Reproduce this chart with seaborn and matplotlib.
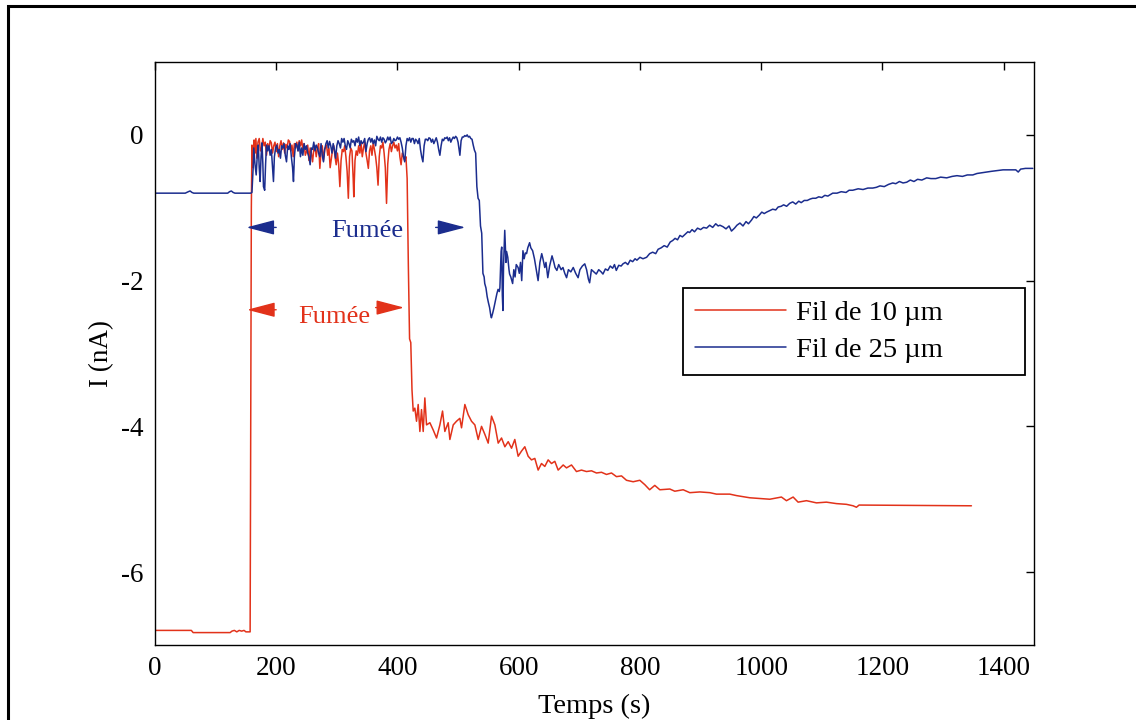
import matplotlib
matplotlib.use("Agg")
import matplotlib.pyplot as plt
import seaborn as sns
import pandas as pd
from matplotlib.patches import Rectangle

# ---------------- data ----------------
t_red = [0, 30, 60, 63, 90, 124, 127, 131, 135, 139, 143, 147, 150, 154, 157,
         158, 159, 160,
         162, 163.5, 165, 166.5, 168, 170, 172, 174, 176, 178, 180, 182, 184, 186, 188, 190,
         192, 194, 196, 198, 200, 202, 204, 206, 208, 210, 212, 214, 216, 218, 220, 222,
         224, 226, 228, 230, 232, 234, 236, 238, 240, 242, 244, 246, 248, 250, 252, 254,
         256, 258, 260, 262, 264, 266, 268, 270, 272, 274, 276, 278, 280, 283, 285, 287,
         289, 291, 293, 295, 297, 299, 301, 303, 305, 307, 309, 311, 313, 315, 317, 319,
         321, 323, 325, 327, 328, 330, 332, 334, 336, 338, 340, 342, 344, 346, 348, 350,
         352, 354, 356, 358, 360, 362, 364, 366, 368, 370, 372, 374, 376, 378, 380, 382,
         384, 386, 388, 390, 392, 394, 396, 398, 400, 402, 404, 406, 408, 410, 412, 414,
         416, 418, 420, 422, 424, 426,
         428.7, 431.5, 434.2, 437, 439.7, 442.5, 445.2, 448, 453.5, 459, 464.5, 470, 474.4,
         478.2, 483.7, 486.5, 492, 497.4, 502.9, 505.7, 511.2, 516.7, 522.2, 527.7, 533.2,
         538.7, 544.2, 549.7, 555.2, 560.7, 566.2, 571.7, 577.2, 582.7, 588.2, 593.6, 599.1,
         604.6, 610.1, 615.6, 621.1, 626.6, 632.1, 637.6, 643.1, 648.6, 654.1, 659.6, 665.1,
         673.4, 678.9, 687.1, 695.3, 703.6, 711.8, 720.1, 728.3, 736.6, 744.8, 753.1, 761.3,
         769.6, 777.8, 788.8, 799.8, 808, 816, 824.5, 832.8, 849.3, 857.5, 871.3, 882.3,
         898.8, 915.3, 926.2, 948.2, 959.2, 981.2, 997.7, 1014.2, 1033.4, 1041.7, 1052.7,
         1060.9, 1074.7, 1091.2, 1107.6, 1124.1, 1140.6, 1151.6, 1157.1, 1161.5, 1344, 1346.8]
i_red = [-6.80, -6.80, -6.80, -6.83, -6.83, -6.83, -6.81, -6.80, -6.82, -6.80, -6.81, -6.80, -6.82, -6.82, -6.82,
         -4.0, -1.0, -0.14,
         -0.45, -0.07, -0.25, -0.05, -0.32, -0.10, -0.05, -0.22, -0.18, -0.05, -0.15, -0.10, -0.28, -0.12, -0.20, -0.08,
         -0.11, -0.25, -0.15, -0.10, -0.23, -0.12, -0.30, -0.15, -0.08, -0.20, -0.11, -0.25, -0.13, -0.18, -0.07, -0.09,
         -0.22, -0.14, -0.30, -0.12, -0.18, -0.10, -0.22, -0.08, -0.15, -0.07, -0.20, -0.12, -0.28, -0.23, -0.14, -0.35,
         -0.18, -0.25, -0.37, -0.20, -0.15, -0.30, -0.18, -0.12, -0.46, -0.22, -0.15, -0.35, -0.20, -0.14, -0.28, -0.18,
         -0.45, -0.32, -0.20, -0.15, -0.30, -0.41, -0.25, -0.40, -0.71, -0.35, -0.20, -0.23, -0.15, -0.30, -0.50, -0.87,
         -0.30, -0.18, -0.22, -0.60, -0.85, -0.35, -0.22, -0.28, -0.15, -0.25, -0.12, -0.30, -0.18, -0.10, -0.25, -0.35,
         -0.46, -0.22, -0.15, -0.28, -0.11, -0.20, -0.30, -0.45, -0.69, -0.30, -0.15, -0.18, -0.10, -0.25, -0.45, -0.94,
         -0.40, -0.20, -0.12, -0.23, -0.15, -0.10, -0.18, -0.14, -0.22, -0.12, -0.30, -0.41, -0.25, -0.30, -0.35, -0.30,
         -0.60, -1.80, -2.80, -2.85, -3.50, -3.79,
         -3.75, -3.93, -3.70, -4.07, -3.77, -4.07, -3.61, -3.98, -3.95, -4.05, -4.16, -3.98, -3.79,
         -4.07, -3.95, -4.18, -3.98, -3.93, -3.89, -4.02, -3.70, -3.84, -3.93, -3.98, -4.18,
         -4.00, -4.11, -4.23, -3.86, -3.98, -4.23, -4.16, -4.28, -4.21, -4.30, -4.18, -4.41,
         -4.34, -4.28, -4.41, -4.46, -4.44, -4.60, -4.51, -4.55, -4.46, -4.51, -4.48, -4.60,
         -4.53, -4.57, -4.53, -4.62, -4.60, -4.62, -4.61, -4.64, -4.63, -4.66, -4.64, -4.69,
         -4.68, -4.74, -4.76, -4.74, -4.80, -4.87, -4.81, -4.87, -4.86, -4.89, -4.87, -4.91,
         -4.90, -4.91, -4.93, -4.93, -4.95, -4.98, -4.99, -5.00, -4.97, -5.02, -4.97,
         -5.04, -5.02, -5.05, -5.04, -5.06, -5.07, -5.09, -5.11, -5.08, -5.09, -5.09]

t_blue = [0, 50, 55, 58, 61, 64, 120, 123, 126, 129, 132, 158, 160,
          162, 163, 165, 167, 169, 170.5, 172, 173.5, 175, 176.5, 178, 179, 181, 182.5, 184, 186, 188, 190,
          192, 194, 195.5, 197, 199, 201, 203, 205, 207, 209, 211, 213, 215, 217, 219, 221, 223, 225, 227,
          228.5, 230, 232, 234, 236, 238, 240, 242, 244, 246, 248, 250, 252, 254, 256, 258, 260, 262, 264,
          266, 268, 270, 272, 274, 276, 278, 280, 282, 284, 286, 288, 290, 292, 294, 296, 298, 300, 302,
          304, 306, 308, 310, 312, 314, 316, 318, 320, 322, 324, 326, 328, 330, 332, 334, 336, 338, 340,
          342, 344, 346, 348, 350, 352, 354, 356, 358, 360, 362, 364, 366, 368, 370, 372, 374, 376, 378,
          380, 382, 384, 386, 388, 390, 392, 394, 396, 398, 400, 402, 404, 406, 408, 410, 412, 414, 416,
          418, 420, 422, 424, 426, 428, 430, 432, 434, 436, 438, 440, 442, 444, 446, 448, 450, 452, 454,
          456, 458, 460, 462, 464, 466, 468, 470, 472, 474, 476, 478, 480, 482, 484, 486, 488, 490, 492,
          494, 496, 498, 500, 502, 503, 505, 507, 509, 511, 513, 515, 517, 519, 521, 523, 525, 527, 529,
          531, 533, 535, 537, 539, 541, 543, 544, 546, 548, 550, 552, 554, 555, 557, 559, 561, 563, 564,
          566, 568, 569, 571, 572, 573, 574, 575, 577, 579, 580, 582, 584, 585, 587, 590, 592, 594, 596,
          599, 601, 603, 605, 607, 609, 611, 613, 615, 618, 620, 623, 626, 629, 632, 635, 638, 640, 643,
          645, 648, 651, 655, 658, 660, 663, 666, 670, 673, 676, 679, 682, 686, 690, 694, 698, 701, 705,
          709, 712, 715, 717, 720, 724, 728, 732, 736, 739, 743, 747, 751, 755, 758, 761, 765, 769, 772,
          776, 780, 784, 788, 792, 795, 800, 805, 811, 816, 821, 826, 830, 835, 840, 845, 850, 854, 858,
          862, 866, 870, 875, 879, 882, 886, 890, 895, 900, 905, 910, 915, 920, 925, 929, 932, 937, 942,
          947, 951, 956, 960, 965, 970, 975, 979, 984, 988, 992, 997, 1001, 1005, 1009, 1014, 1019, 1024,
          1028, 1033, 1037, 1042, 1047, 1052, 1057, 1062, 1066, 1071, 1076, 1081, 1085, 1090, 1095, 1100,
          1105, 1110, 1114, 1118, 1125, 1132, 1140, 1145, 1151, 1160, 1168, 1176, 1184, 1190, 1196, 1203,
          1210, 1217, 1222, 1228, 1234, 1240, 1246, 1252, 1258, 1265, 1273, 1280, 1288, 1296, 1306, 1315,
          1323, 1332, 1340, 1349, 1356, 1364, 1372, 1380, 1390, 1399, 1410, 1420, 1424, 1428, 1436, 1448]
i_blue = [-0.80, -0.80, -0.78, -0.77, -0.79, -0.80, -0.80, -0.78, -0.77, -0.79, -0.80, -0.80, -0.79,
          -0.45, -0.18, -0.40, -0.55, -0.25, -0.14, -0.45, -0.64, -0.30, -0.11, -0.40, -0.71, -0.76, -0.40, -0.14, -0.22, -0.15, -0.28,
          -0.20, -0.45, -0.64, -0.30, -0.18, -0.14, -0.25, -0.20, -0.32, -0.15, -0.18, -0.12, -0.28, -0.37, -0.15, -0.20, -0.12, -0.30, -0.45,
          -0.64, -0.30, -0.12, -0.14, -0.22, -0.10, -0.30, -0.18, -0.28, -0.12, -0.20, -0.15, -0.25, -0.30, -0.41, -0.18, -0.20, -0.10, -0.22,
          -0.14, -0.18, -0.25, -0.30, -0.12, -0.28, -0.37, -0.20, -0.12, -0.08, -0.18, -0.09, -0.15, -0.25, -0.12, -0.20, -0.32, -0.15, -0.08,
          -0.12, -0.18, -0.05, -0.10, -0.05, -0.15, -0.20, -0.08, -0.12, -0.18, -0.06, -0.10, -0.08, -0.15, -0.05, -0.10, -0.03, -0.15, -0.08,
          -0.12, -0.10, -0.05, -0.23, -0.12, -0.06, -0.04, -0.10, -0.05, -0.12, -0.07, -0.15, -0.02, -0.06, -0.08, -0.03, -0.10, -0.04, -0.06,
          -0.11, -0.08, -0.03, -0.07, -0.03, -0.12, -0.10, -0.05, -0.08, -0.07, -0.03, -0.06, -0.04, -0.10, -0.18, -0.30, -0.37, -0.15, -0.05,
          -0.08, -0.04, -0.10, -0.05, -0.05, -0.12, -0.06, -0.08, -0.12, -0.05, -0.20, -0.30, -0.37, -0.15, -0.06, -0.06, -0.08, -0.04, -0.05,
          -0.10, -0.06, -0.12, -0.08, -0.04, -0.10, -0.20, -0.28, -0.15, -0.06, -0.08, -0.04, -0.05, -0.03, -0.08, -0.04, -0.10, -0.06, -0.03,
          -0.05, -0.02, -0.04, -0.10, -0.22, -0.28, -0.08, -0.03, -0.03, -0.01, -0.02, 0.00, -0.03, -0.02, -0.05, -0.06, -0.14, -0.21, -0.25,
          -0.71, -0.87, -0.90, -1.25, -1.35, -1.90, -1.95, -2.04, -2.10, -2.22, -2.30, -2.37, -2.48, -2.51, -2.45, -2.38, -2.30, -2.22, -2.18,
          -2.12, -2.15, -2.10, -1.60, -1.54, -2.20, -2.41, -1.80, -1.31, -1.75, -1.60, -1.68, -1.85, -1.91, -1.95, -2.04, -1.85, -1.95, -1.78,
          -1.82, -1.90, -1.75, -2.00, -1.59, -1.70, -1.62, -1.63, -1.55, -1.48, -1.55, -1.59, -1.70, -1.85, -2.00, -1.75, -1.63, -1.70, -1.82,
          -1.75, -1.96, -1.80, -1.66, -1.75, -1.82, -1.86, -1.78, -1.85, -1.82, -1.90, -1.96, -1.85, -1.88, -1.82, -1.90, -1.96, -1.85, -1.80,
          -1.77, -1.85, -1.98, -2.03, -1.85, -1.88, -1.91, -1.85, -1.88, -1.91, -1.84, -1.86, -1.80, -1.83, -1.78, -1.86, -1.79, -1.80, -1.77,
          -1.75, -1.78, -1.72, -1.74, -1.70, -1.72, -1.68, -1.70, -1.68, -1.63, -1.61, -1.63, -1.57, -1.55, -1.52, -1.54, -1.47, -1.45, -1.42,
          -1.44, -1.38, -1.40, -1.36, -1.33, -1.34, -1.30, -1.33, -1.28, -1.30, -1.27, -1.28, -1.24, -1.27, -1.22, -1.25, -1.24, -1.26, -1.29,
          -1.25, -1.32, -1.28, -1.24, -1.21, -1.25, -1.19, -1.22, -1.17, -1.12, -1.14, -1.10, -1.06, -1.08, -1.06, -1.04, -1.02, -1.03,
          -0.99, -0.98, -0.96, -0.98, -0.94, -0.92, -0.95, -0.91, -0.93, -0.90, -0.90, -0.88, -0.87, -0.87, -0.85, -0.86,
          -0.83, -0.84, -0.82, -0.80, -0.80, -0.78, -0.79, -0.76, -0.76, -0.74, -0.75, -0.73, -0.73, -0.72, -0.70, -0.71,
          -0.68, -0.66, -0.67, -0.64, -0.66, -0.65, -0.62, -0.64, -0.61, -0.62, -0.59, -0.60, -0.60, -0.58, -0.59, -0.57,
          -0.56, -0.57, -0.55, -0.55, -0.53, -0.52, -0.51, -0.50, -0.49, -0.48, -0.48, -0.48, -0.51, -0.47, -0.46, -0.46]

labels = ["Fil de 10 \u00b5m", "Fil de 25 \u00b5m"]
x_ticks = [0, 200, 400, 600, 800, 1000, 1200, 1400]
y_ticks = [-6, -4, -2, 0]

RED = "#E2321A"
BLUE = "#1B2D8E"

# ---------------- style ----------------
sns.set_theme(style="white")
plt.rcParams["font.family"] = ["Liberation Serif", "DejaVu Serif"]
plt.rcParams["axes.unicode_minus"] = False
plt.rcParams["text.color"] = "black"
plt.rcParams["axes.labelcolor"] = "black"
plt.rcParams["xtick.color"] = "black"
plt.rcParams["ytick.color"] = "black"

fig = plt.figure(figsize=(11.36, 7.2), dpi=100)
ax = fig.add_axes([0.1364, 0.1042, 0.7738, 0.8097])

df_r = pd.DataFrame({"t": t_red, "i": i_red})
df_b = pd.DataFrame({"t": t_blue, "i": i_blue})
sns.lineplot(data=df_r, x="t", y="i", ax=ax, color=RED, lw=1.1, label=labels[0],
             estimator=None, sort=False)
sns.lineplot(data=df_b, x="t", y="i", ax=ax, color=BLUE, lw=1.1, label=labels[1],
             estimator=None, sort=False)

ax.set_xlim(0, 1450)
ax.set_ylim(-7, 1)
ax.set_xticks(x_ticks)
ax.set_yticks(y_ticks)
ax.tick_params(direction="in", length=6, width=1.0, top=True, right=True,
               labelsize=19.5, pad=8, colors="black")
for s in ax.spines.values():
    s.set_color("black")
    s.set_linewidth(1.0)
ax.set_xlabel("Temps (s)", fontsize=20.5, labelpad=9, color="black")
ax.set_ylabel("I (nA)", fontsize=19.5, labelpad=5, color="black")

# annotations
ax.text(350, -1.32, "Fum\u00e9e", color=BLUE, fontsize=19, ha="center", va="center")
ax.text(295, -2.50, "Fum\u00e9e", color=RED, fontsize=19, ha="center", va="center")
arw = dict(arrowstyle="-|>,head_length=1.45,head_width=0.38", lw=1.0, shrinkA=0, shrinkB=0)
ax.annotate("", xy=(151, -1.27), xytext=(200, -1.27), arrowprops=dict(arw, color=BLUE))
ax.annotate("", xy=(512, -1.27), xytext=(463, -1.27), arrowprops=dict(arw, color=BLUE))
ax.annotate("", xy=(152, -2.40), xytext=(200, -2.40), arrowprops=dict(arw, color=RED))
ax.annotate("", xy=(411, -2.37), xytext=(364, -2.37), arrowprops=dict(arw, color=RED))

leg = ax.legend(loc="upper left", bbox_to_anchor=(0.6007, 0.458, 0.389, 0.1543),
                mode="expand", fontsize=20.5, frameon=True, fancybox=False,
                framealpha=1, edgecolor="black", borderpad=0.42, labelspacing=0.4,
                handlelength=3.2, handletextpad=0.36, borderaxespad=0)
leg.get_frame().set_linewidth(1.3)
for txt in leg.get_texts():
    txt.set_color("black")

# outer border
fig.patches.append(Rectangle((8 / 1136, -0.05), 1.2, 1 - 6 / 720 + 0.05,
                             transform=fig.transFigure, fill=False,
                             edgecolor="black", lw=2.2, clip_on=False))

fig.savefig("out.png", dpi=100)
